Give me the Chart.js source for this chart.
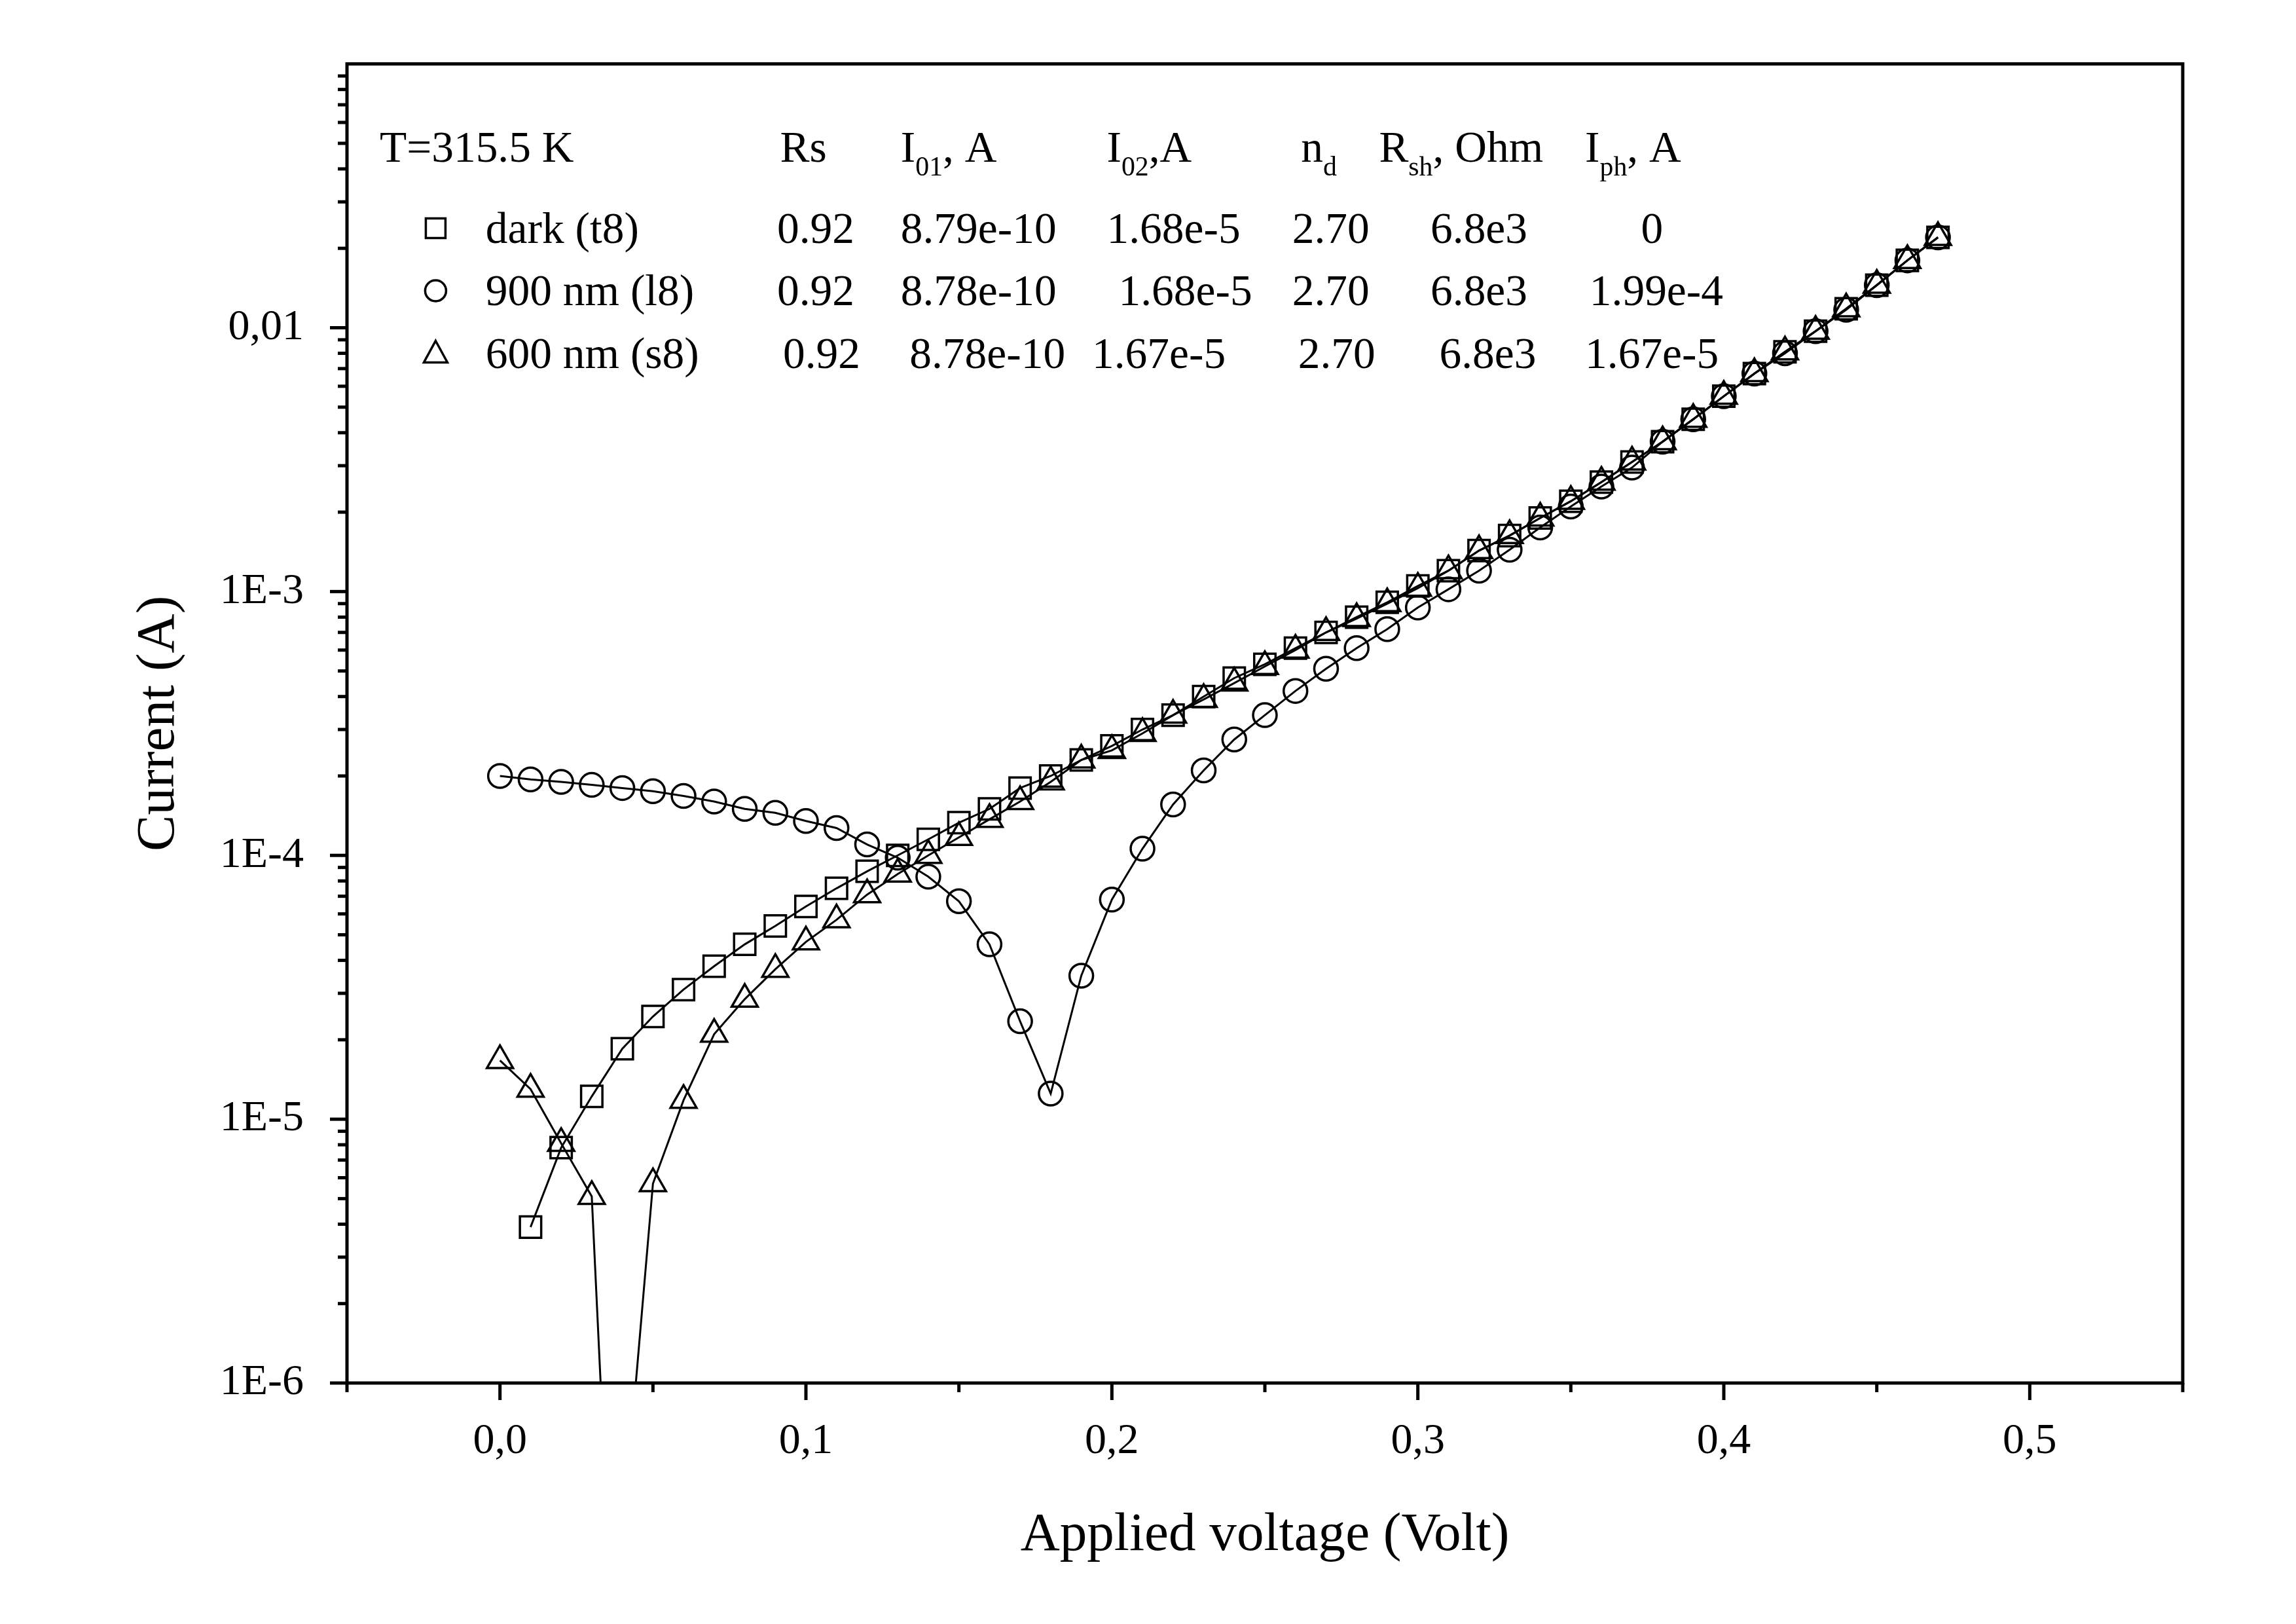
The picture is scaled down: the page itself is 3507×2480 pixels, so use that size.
<!DOCTYPE html>
<html>
<head>
<meta charset="utf-8">
<script src="https://cdn.jsdelivr.net/npm/chart.js@4.4.0/dist/chart.umd.min.js"></script>
<style>
  html, body { margin: 0; padding: 0; background: #fff; }
  #wrap { width: 3507px; height: 2480px; }
</style>
</head>
<body>
<div id="wrap"><canvas id="c" width="3507" height="2480"></canvas></div>
<script>
// voltages (V)
const vDark = [0.01,0.02,0.03,0.04,0.05,0.06,0.07,0.08,0.09,0.10,0.11,0.12,0.13,0.14,0.15,0.16,0.17,0.18,0.19,0.20,
  0.21,0.22,0.23,0.24,0.25,0.26,0.27,0.28,0.29,0.30,0.31,0.32,0.33,0.34,0.35,0.36,0.37,0.38,0.39,0.40,0.41,0.42,0.43,0.44,0.45,0.46,0.47];
const iDark = [3.9e-6,7.8e-6,1.22e-5,1.85e-5,2.45e-5,3.1e-5,3.8e-5,4.6e-5,5.4e-5,6.4e-5,7.5e-5,8.7e-5,1.0e-4,1.15e-4,1.33e-4,1.5e-4,1.8e-4,2.0e-4,2.3e-4,2.6e-4,
  3.0e-4,3.4e-4,4.0e-4,4.7e-4,5.3e-4,6.1e-4,7.0e-4,8.0e-4,9.1e-4,1.05e-3,1.2e-3,1.43e-3,1.63e-3,1.9e-3,2.2e-3,2.6e-3,3.1e-3,3.7e-3,4.5e-3,5.5e-3,6.7e-3,8.1e-3,9.7e-3,1.18e-2,1.45e-2,1.8e-2,2.2e-2];

const v900 = [0.00,0.01,0.02,0.03,0.04,0.05,0.06,0.07,0.08,0.09,0.10,0.11,0.12,0.13,0.14,0.15,0.16,0.17,0.18,0.19,0.20,
  0.21,0.22,0.23,0.24,0.25,0.26,0.27,0.28,0.29,0.30,0.31,0.32,0.33,0.34,0.35,0.36,0.37,0.38,0.39,0.40,0.41,0.42,0.43,0.44,0.45,0.46,0.47];
const i900 = [2.0e-4,1.94e-4,1.9e-4,1.85e-4,1.8e-4,1.75e-4,1.68e-4,1.6e-4,1.5e-4,1.45e-4,1.35e-4,1.27e-4,1.1e-4,9.8e-5,8.3e-5,6.7e-5,4.6e-5,2.35e-5,1.25e-5,3.5e-5,6.8e-5,
  1.06e-4,1.56e-4,2.1e-4,2.75e-4,3.4e-4,4.2e-4,5.1e-4,6.1e-4,7.2e-4,8.7e-4,1.02e-3,1.2e-3,1.44e-3,1.75e-3,2.1e-3,2.5e-3,2.95e-3,3.7e-3,4.5e-3,5.5e-3,6.7e-3,8.0e-3,9.7e-3,1.17e-2,1.45e-2,1.8e-2,2.2e-2];

const v600 = [0.00,0.01,0.02,0.03,0.037,0.05,0.06,0.07,0.08,0.09,0.10,0.11,0.12,0.13,0.14,0.15,0.16,0.17,0.18,0.19,0.20,
  0.21,0.22,0.23,0.24,0.25,0.26,0.27,0.28,0.29,0.30,0.31,0.32,0.33,0.34,0.35,0.36,0.37,0.38,0.39,0.40,0.41,0.42,0.43,0.44,0.45,0.46,0.47];
const i600 = [1.67e-5,1.3e-5,8.1e-6,5.1e-6,1e-7,5.7e-6,1.18e-5,2.1e-5,2.85e-5,3.7e-5,4.7e-5,5.7e-5,7.1e-5,8.5e-5,1.0e-4,1.17e-4,1.37e-4,1.6e-4,1.9e-4,2.3e-4,2.5e-4,
  2.9e-4,3.4e-4,3.9e-4,4.5e-4,5.2e-4,6.0e-4,7.0e-4,7.9e-4,9.0e-4,1.03e-3,1.2e-3,1.43e-3,1.63e-3,1.9e-3,2.2e-3,2.6e-3,3.1e-3,3.7e-3,4.5e-3,5.5e-3,6.7e-3,8.1e-3,9.7e-3,1.18e-2,1.45e-2,1.8e-2,2.2e-2];

const yDecades = [1e-6,1e-5,1e-4,1e-3,1e-2];
const yLabels = ['1E-6','1E-5','1E-4','1E-3','0,01'];
const xMajor = [0.0,0.1,0.2,0.3,0.4,0.5];
const xLabels = ['0,0','0,1','0,2','0,3','0,4','0,5'];

const header = [['T=315.5 K',258],['Rs',530],['I|01|, A',612],['I|02|,A',752],['n|d|',884],['R|sh|, Ohm',937],['I|ph|, A',1077]];
const rows = [
  ['rect',   [['dark (t8)',330],['0.92',528],['8.79e-10',612],['1.68e-5',752],['2.70',878],['6.8e3',972],['0',1115]]],
  ['circle', [['900 nm (l8)',330],['0.92',528],['8.78e-10',612],['1.68e-5',760],['2.70',878],['6.8e3',972],['1.99e-4',1080]]],
  ['triangle',[['600 nm (s8)',330],['0.92',532],['8.78e-10',618],['1.67e-5',742],['2.70',882],['6.8e3',978],['1.67e-5',1077]]]
];

const S = 2.248;
const FONT = '"Liberation Serif", "DejaVu Serif", serif';

function pts(xs, ys) { return xs.map((x, i) => ({ x: x, y: ys[i] })); }

function ds(data, style) {
  return {
    data: data, showLine: true, borderColor: '#000', borderWidth: 3,
    pointStyle: style, pointRadius: ctx => (ctx.raw && ctx.raw.y < 1e-6 ? 0 : (style === 'circle' ? 18 : 23)),
    pointBorderColor: '#000', pointBorderWidth: 3.5, pointBackgroundColor: 'rgba(0,0,0,0)',
    tension: 0
  };
}

function drawRich(ctx, str, x, y, size) {
  const parts = str.split('|');
  let cx = x;
  parts.forEach((p, i) => {
    if (i % 2 === 1) {
      ctx.font = (size * 0.62) + 'px ' + FONT;
      ctx.fillText(p, cx, y + size * 0.3);
    } else {
      ctx.font = size + 'px ' + FONT;
      ctx.fillText(p, cx, y);
    }
    cx += ctx.measureText(p).width;
  });
}

const decor = {
  id: 'decor',
  afterDraw(chart) {
    const ctx = chart.ctx, a = chart.chartArea;
    const xs = chart.scales.x, ys = chart.scales.y;
    ctx.save();
    ctx.strokeStyle = '#000';
    ctx.lineWidth = 5;
    ctx.strokeRect(a.left, a.top, a.right - a.left, a.bottom - a.top);
    // y ticks (outward)
    for (let d = -6; d <= -2; d++) {
      for (let m = 1; m <= 9; m++) {
        const v = m * Math.pow(10, d);
        if (v > 0.1 + 1e-12) continue;
        const py = ys.getPixelForValue(v);
        const len = m === 1 ? 26 : 14;
        ctx.beginPath(); ctx.moveTo(a.left, py); ctx.lineTo(a.left - len, py); ctx.stroke();
      }
    }
    // x ticks
    for (let k = -1; k <= 11; k++) {
      const v = k * 0.05;
      const px = xs.getPixelForValue(v);
      const len = k % 2 === 0 ? 26 : 14;
      ctx.beginPath(); ctx.moveTo(px, a.bottom); ctx.lineTo(px, a.bottom + len); ctx.stroke();
    }
    // axis titles
    ctx.fillStyle = '#000';
    ctx.font = (37 * S) + 'px ' + FONT;
    ctx.textAlign = 'center'; ctx.textBaseline = 'middle';
    ctx.fillText('Applied voltage (Volt)', (a.left + a.right) / 2, 1043 * S);
    ctx.save();
    ctx.translate(108 * S, (a.top + a.bottom) / 2);
    ctx.rotate(-Math.PI / 2);
    ctx.fillText('Current (A)', 0, 0);
    ctx.restore();
    // legend / parameter table
    const fs = 30 * S;
    ctx.textAlign = 'left'; ctx.textBaseline = 'alphabetic';
    header.forEach(h => drawRich(ctx, h[0], h[1] * S, 110 * S, fs));
    rows.forEach((r, i) => {
      const yb = (165 + i * 42.5) * S;
      const my = yb - 10 * S, mx = 296 * S;
      ctx.lineWidth = 3.5;
      ctx.beginPath();
      if (r[0] === 'rect') ctx.rect(mx - 15, my - 15, 30, 30);
      else if (r[0] === 'circle') ctx.arc(mx, my, 16, 0, Math.PI * 2);
      else { ctx.moveTo(mx, my - 19); ctx.lineTo(mx + 18, my + 14); ctx.lineTo(mx - 18, my + 14); ctx.closePath(); }
      ctx.stroke();
      r[1].forEach(c => drawRich(ctx, c[0], c[1] * S, yb, fs));
    });
    ctx.restore();
  }
};

new Chart(document.getElementById('c'), {
  type: 'scatter',
  data: { datasets: [ds(pts(vDark, iDark), 'rect'), ds(pts(v900, i900), 'circle'), ds(pts(v600, i600), 'triangle')] },
  options: {
    responsive: false, animation: false, devicePixelRatio: 1,
    layout: { padding: { top: 28, right: 173, left: 0, bottom: 0 } },
    plugins: { legend: { display: false }, tooltip: { enabled: false } },
    scales: {
      x: {
        type: 'linear', min: -0.05, max: 0.55,
        afterFit: s => { s.height = 368; },
        afterBuildTicks: s => { s.ticks = xMajor.map(v => ({ value: v })); },
        grid: { display: false }, border: { display: false },
        ticks: { padding: 42, color: '#000', font: { family: FONT, size: 66 },
          callback: v => { const i = xMajor.findIndex(m => Math.abs(m - v) < 1e-9); return i >= 0 ? xLabels[i] : ''; } }
      },
      y: {
        type: 'logarithmic', min: 1e-6, max: 0.1,
        afterFit: s => { s.width = 530; },
        afterBuildTicks: s => { s.ticks = yDecades.map(v => ({ value: v })); },
        grid: { display: false }, border: { display: false },
        ticks: { padding: 58, color: '#000', font: { family: FONT, size: 66 },
          callback: v => { const i = yDecades.findIndex(m => Math.abs(m - v) / m < 1e-6); return i >= 0 ? yLabels[i] : ''; } }
      }
    }
  },
  plugins: [decor]
});
</script>
</body>
</html>
